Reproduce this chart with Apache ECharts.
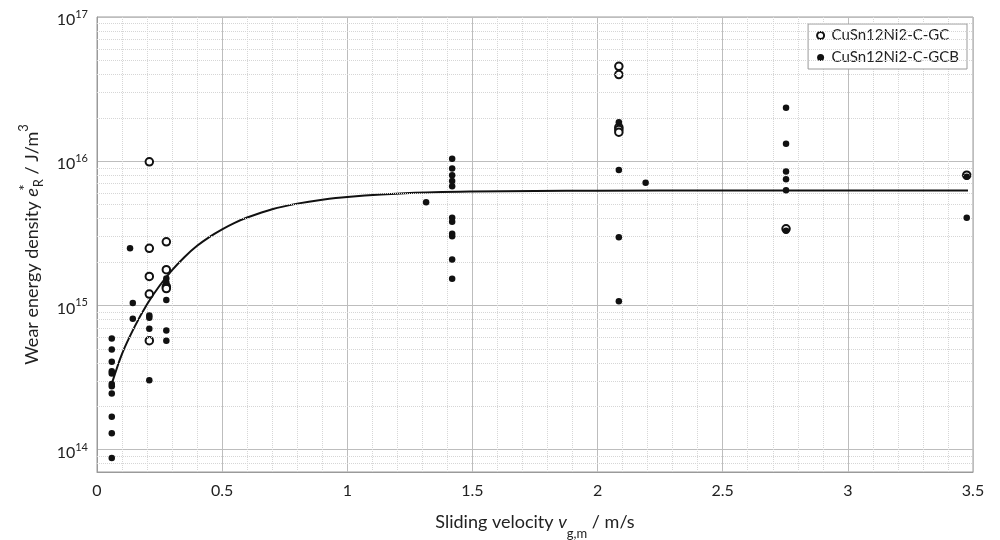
<!DOCTYPE html>
<html>
<head>
<meta charset="utf-8">
<script src="https://cdn.jsdelivr.net/npm/echarts@6/dist/echarts.min.js"></script>
<style>
html,body{margin:0;padding:0;background:#fff;}
#chart{width:1000px;height:540px;}
</style>
</head>
<body>
<div id="chart"></div>
<script>
// ---- data ----
const seriesNames = ['CuSn12Ni2-C-GC', 'CuSn12Ni2-C-GCB'];

// open circles: CuSn12Ni2-C-GC  [velocity m/s, wear energy density J/m^3]
const gcPoints = [
  [0.209, 9.9e15], [0.209, 2.49e15], [0.209, 1.59e15], [0.209, 1.2e15], [0.209, 5.7e14],
  [0.277, 2.76e15], [0.277, 1.77e15], [0.277, 1.35e15], [0.277, 1.31e15],
  [2.085, 4.55e16], [2.085, 3.99e16], [2.085, 1.72e16], [2.085, 1.66e16], [2.085, 1.59e16],
  [2.753, 3.4e15], [3.475, 8.0e15]
];

// filled dots: CuSn12Ni2-C-GCB
const gcbPoints = [
  [0.059, 5.9e14], [0.059, 4.95e14], [0.059, 4.07e14], [0.059, 3.5e14], [0.059, 3.38e14],
  [0.059, 2.85e14], [0.059, 2.75e14], [0.059, 2.45e14], [0.059, 1.69e14], [0.059, 1.3e14], [0.059, 8.75e13],
  [0.132, 2.49e15],
  [0.143, 1.04e15], [0.143, 8.1e14],
  [0.209, 8.5e14], [0.209, 8.2e14], [0.209, 6.9e14], [0.209, 3.03e14],
  [0.277, 1.54e15], [0.277, 1.44e15], [0.277, 1.09e15], [0.277, 6.7e14], [0.277, 5.7e14],
  [1.315, 5.2e15],
  [1.419, 1.04e16], [1.419, 8.9e15], [1.419, 8.0e15], [1.419, 7.3e15], [1.419, 6.7e15],
  [1.419, 4.06e15], [1.419, 3.8e15], [1.419, 3.14e15], [1.419, 3.02e15], [1.419, 2.08e15], [1.419, 1.53e15],
  [2.085, 1.86e16], [2.085, 8.7e15], [2.085, 2.97e15], [2.085, 1.07e15],
  [2.192, 7.1e15],
  [2.753, 2.35e16], [2.753, 1.32e16], [2.753, 8.5e15], [2.753, 7.5e15], [2.753, 6.3e15], [2.753, 3.3e15],
  [3.475, 7.8e15], [3.475, 4.06e15]
];

// fitted curve, points
const curveX = [0.06, 0.1, 0.15, 0.2, 0.25, 0.3, 0.35, 0.4, 0.45, 0.5, 0.55, 0.6, 0.7, 0.8, 0.9, 1.0, 1.25, 1.5, 1.75, 2.0, 2.5, 3.0, 3.48];
const curveY = [2.9e14, 4.62e14, 7.1e14, 1.02e15, 1.37e15, 1.76e15, 2.17e15, 2.59e15, 2.99e15, 3.37e15, 3.74e15, 4.07e15, 4.65e15, 5.08e15, 5.41e15, 5.65e15, 6.01e15, 6.16e15, 6.22e15, 6.25e15, 6.26e15, 6.26e15, 6.26e15];

// axis ticks
const xTicks = [0, 0.5, 1, 1.5, 2, 2.5, 3, 3.5];
const yDecades = [14, 15, 16, 17];
const minorMultipliers = [2, 3, 4, 5, 6, 7, 8, 9];
const minorDecades = [13, 14, 15, 16];

// ---- chart ----
const FONT = 'Lato';
const TXT = '#222';
const yMin = 7e13, yMax = 1e17;

const minorY = [];
minorDecades.forEach(d => minorMultipliers.forEach(m => {
  const v = m * Math.pow(10, d);
  if (v > yMin && v < yMax) minorY.push({ yAxis: v });
}));

const chart = echarts.init(document.getElementById('chart'), null, { renderer: 'canvas' });
chart.setOption({
  animation: false,
  backgroundColor: '#fff',
  textStyle: { fontFamily: FONT, color: TXT },
  grid: {
    left: 97, right: 27, top: 17, bottom: 68,
    containLabel: false, outerBoundsMode: 'none',
    show: true, borderColor: '#9a9a9a', borderWidth: 1
  },
  legend: {
    data: [
      { name: seriesNames[0], icon: 'emptyCircle', itemStyle: { color: '#111', borderColor: '#111', borderWidth: 1.3 } },
      { name: seriesNames[1], icon: 'circle', itemStyle: { color: '#111', borderWidth: 0 } }
    ],
    orient: 'vertical',
    right: 33, top: 24,
    padding: [4, 8, 4, 8],
    itemGap: 7,
    itemWidth: 12, itemHeight: 7,
    backgroundColor: '#fff',
    borderColor: '#9a9a9a', borderWidth: 1, borderRadius: 0,
    textStyle: { fontFamily: FONT, fontSize: 15, color: TXT }
  },
  xAxis: {
    type: 'value',
    min: xTicks[0], max: xTicks[xTicks.length - 1], interval: 0.5,
    axisLine: { show: true, lineStyle: { color: '#9a9a9a' } },
    axisTick: { show: false },
    minorTick: { show: false, splitNumber: 5 },
    splitLine: { show: true, lineStyle: { color: '#bdbdbd', width: 1 } },
    minorSplitLine: { show: true, lineStyle: { color: '#d6d6d6', type: 'dotted', width: 1 } },
    axisLabel: {
      fontFamily: FONT, fontSize: 16, color: TXT, margin: 11,
      formatter: v => String(v)
    },
    name: '{n|Sliding velocity }{i|v}{sb|g,m}{n| / m/s}',
    nameLocation: 'middle',
    nameGap: 38,
    nameTextStyle: {
      fontFamily: FONT, color: TXT,
      rich: {
        n: { fontFamily: FONT, fontSize: 18, lineHeight: 24, color: TXT },
        i: { fontFamily: FONT, fontSize: 18, lineHeight: 24, fontStyle: 'italic', color: TXT },
        sb: { fontFamily: FONT, fontSize: 13, lineHeight: 14, verticalAlign: 'bottom', color: TXT, padding: [0, 0, -6, 0] }
      }
    }
  },
  yAxis: {
    type: 'log', logBase: 10,
    min: yMin, max: yMax,
    axisLine: { show: true, lineStyle: { color: '#9a9a9a' } },
    axisTick: { show: false },
    splitLine: { show: true, lineStyle: { color: '#bdbdbd', width: 1 } },
    axisLabel: {
      fontFamily: FONT, color: TXT, margin: 9,
      padding: [6, 0, 0, 0],
      formatter: function (v) {
        const e = Math.log10(v);
        const r = Math.round(e);
        if (Math.abs(e - r) > 1e-6 || yDecades.indexOf(r) < 0) return '';
        return '{b|10}{s|' + r + '}';
      },
      rich: {
        b: { fontFamily: FONT, fontSize: 16, lineHeight: 22, color: TXT },
        s: { fontFamily: FONT, fontSize: 11, lineHeight: 11, verticalAlign: 'top', color: TXT }
      }
    },
    name: '{n|Wear energy density }{i|e}{sp|*}{sb|R}{n| / J/m}{sp2|3}',
    nameLocation: 'middle',
    nameRotate: 90,
    nameGap: 50,
    nameTextStyle: {
      fontFamily: FONT, color: TXT,
      rich: {
        n: { fontFamily: FONT, fontSize: 18, lineHeight: 28, color: TXT },
        i: { fontFamily: FONT, fontSize: 18, lineHeight: 28, fontStyle: 'italic', color: TXT },
        sp: { fontFamily: FONT, fontSize: 15, lineHeight: 12, verticalAlign: 'top', color: TXT, width: 1 },
        sp2: { fontFamily: FONT, fontSize: 13, lineHeight: 12, verticalAlign: 'top', color: TXT },
        sb: { fontFamily: FONT, fontSize: 13, lineHeight: 12, verticalAlign: 'bottom', color: TXT }
      }
    }
  },
  series: [
    {
      name: 'fit',
      type: 'line',
      data: curveX.map((x, i) => [x, curveY[i]]),
      smooth: 0.3,
      showSymbol: false,
      symbol: 'none',
      silent: true,
      z: 3,
      lineStyle: { color: '#111', width: 2 },
      markLine: {
        silent: true,
        symbol: 'none',
        animation: false,
        label: { show: false },
        lineStyle: { color: '#d6d6d6', type: 'dotted', width: 1 },
        emphasis: { disabled: true },
        data: minorY
      }
    },
    {
      name: seriesNames[0],
      type: 'scatter',
      data: gcPoints,
      symbol: 'emptyCircle',
      symbolSize: 7.5,
      z: 4,
      itemStyle: { color: '#111', borderColor: '#111', borderWidth: 1.8, opacity: 1 }
    },
    {
      name: seriesNames[1],
      type: 'scatter',
      data: gcbPoints,
      symbol: 'circle',
      symbolSize: 6.5,
      z: 5,
      itemStyle: { color: '#111', opacity: 1 }
    }
  ]
});
</script>
</body>
</html>
